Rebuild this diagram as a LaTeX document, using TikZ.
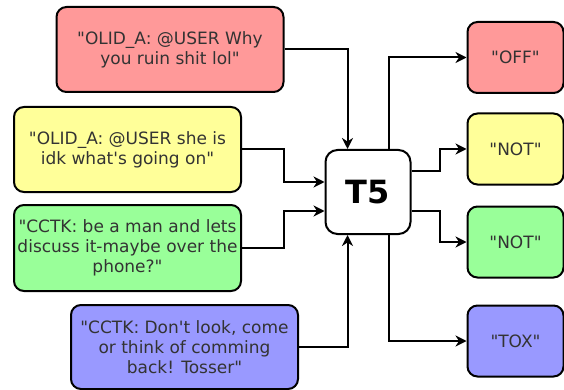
\documentclass[tikz,border=0pt]{standalone}
\usepackage{fontspec}
\setmainfont{DejaVu Sans}[Ligatures=TeXOff]
\usepackage{xcolor}
\usepackage{tikz}
\usetikzlibrary{shapes.geometric, arrows, arrows.meta}

\definecolor{boxred}{HTML}{FF9999}
\definecolor{boxyellow}{HTML}{FFFF99}
\definecolor{boxgreen}{HTML}{99FF99}
\definecolor{boxblue}{HTML}{9999FF}
\definecolor{txtgray}{HTML}{333333}

\tikzset{
    tweet/.style={draw, line width=2pt, rounded corners=10pt, align=center,
        inner sep=1pt, minimum width=227pt, text=txtgray,
        font=\fontsize{17}{20}\selectfont},
    label box/.style={draw, line width=2pt, rounded corners=10pt, align=center,
        minimum width=96pt, minimum height=71pt, text=txtgray,
        font=\fontsize{17}{20}\selectfont},
    link/.style={line width=2pt, -{Stealth[length=11pt,width=11pt,inset=3.5pt]}}
}

\begin{document}
\begin{tikzpicture}[x=1pt, y=-1pt]
        \useasboundingbox (0,0) rectangle (564,390);

        \node[tweet, fill=boxred, minimum height=85pt] (olid1) at (170,49.5)
            {"OLID\_A: @USER Why\\you ruin shit lol"};
        \node[tweet, fill=boxyellow, minimum height=85pt] (olid2) at (127.5,149.5)
            {"OLID\_A: @USER she is\\idk what's going on"};
        \node[tweet, fill=boxgreen, minimum height=86pt] (cctk1) at (127.5,248)
            {"CCTK: be a man and lets\\discuss it-maybe over the\\phone?"};
        \node[tweet, fill=boxblue, minimum height=84pt] (cctk2) at (184.5,347)
            {"CCTK: Don't look, come\\or think of comming\\back! Tosser"};

        \node[draw, line width=2pt, rounded corners=12pt, fill=white,
            minimum width=85pt, minimum height=84pt,
            font=\fontsize{32}{32}\selectfont\bfseries] (t5) at (368,192) {T5};

        \node[label box, fill=boxred] (off)  at (515.5,57.5) {"OFF"};
        \node[label box, fill=boxyellow] (not1) at (515.5,149) {"NOT"};
        \node[label box, fill=boxgreen] (not2) at (515.5,242) {"NOT"};
        \node[label box, fill=boxblue] (tox)  at (515.5,341) {"TOX"};

        % inputs
        \draw[link] (olid1) -| ([xshift=-20.5pt]t5.north);
        \draw[link] (olid2.east) -- ++(42,0) |- ([yshift=10pt]t5.west);
        \draw[link] (cctk1.east) -- ++(42,0) |- ([yshift=-19pt]t5.west);
        \draw[link] (cctk2) -| ([xshift=-20.5pt]t5.south);

        % outputs
        \draw[link] ([xshift=20.5pt]t5.north) |- (off);
        \draw[link] ([yshift=21pt]t5.east) -- ++(28,0) |- (not1);
        \draw[link] ([yshift=-19pt]t5.east) -- ++(28,0) |- (not2);
        \draw[link] ([xshift=20.5pt]t5.south) |- (tox);
    \end{tikzpicture}
\end{document}
